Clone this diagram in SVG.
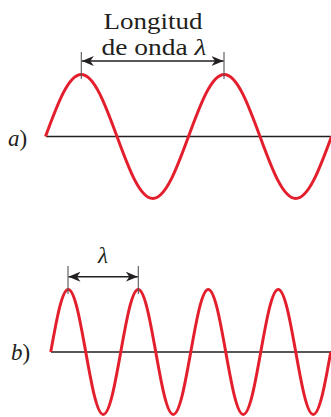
<svg xmlns="http://www.w3.org/2000/svg" width="331" height="417" viewBox="0 0 331 417">
<style>
.wave{fill:none;stroke:#e41f2d;stroke-width:3;stroke-linejoin:round}
.axis{stroke:#231f20;stroke-width:1.4}
.tick{stroke:#555;stroke-width:1.1}
.dim{stroke:#231f20;stroke-width:1.4;marker-start:url(#ah);marker-end:url(#ah)}
.t{font-family:"Liberation Serif","Times New Roman",serif;font-size:23px;fill:#231f20}
.i{font-style:italic}
</style>
<defs>
<marker id="ah" viewBox="0 0 12 10" refX="12" refY="5" markerWidth="12" markerHeight="10" markerUnits="userSpaceOnUse" orient="auto-start-reverse">
<path d="M0,0 L12,5 L0,10 L3.5,5 z" fill="#231f20"/>
</marker>
</defs>
<rect width="331" height="417" fill="#fff"/>
<g id="wave-a">
<line class="axis" x1="46" y1="136.5" x2="331" y2="136.5"/>
<path class="wave" d="M45.5,136.5
c 11.66,-31.76 22.81,-62 35.75,-62
c 12.94,0 24.09,30.24 35.75,62
c 11.66,31.76 22.81,62 35.75,62
c 12.94,0 24.09,-30.24 35.75,-62
c 11.66,-31.76 22.81,-62 35.75,-62
c 12.94,0 24.09,30.24 35.75,62
c 11.66,31.76 22.81,62 35.75,62
c 12.94,0 24.09,-30.24 35.75,-62"/>
<text class="t" x="8" y="146"><tspan class="i">a</tspan>)</text>
</g>
<g id="dim-a">
<line class="tick" x1="81.3" y1="52" x2="81.3" y2="79"/>
<line class="tick" x1="224" y1="52" x2="224" y2="79"/>
<text class="t" x="153" y="29" text-anchor="middle" textLength="99" lengthAdjust="spacingAndGlyphs">Longitud</text>
<text class="t" x="154" y="55" text-anchor="middle" textLength="105" lengthAdjust="spacingAndGlyphs">de onda <tspan class="i">λ</tspan></text>
</g>
<g id="wave-b">
<line class="axis" x1="51" y1="352" x2="331" y2="352"/>
<path class="wave" d="M50.75,352
c 5.71,-32.02 11.17,-62.5 17.5,-62.5
c 6.33,0 11.79,30.48 17.5,62.5
c 5.71,32.02 11.17,62.5 17.5,62.5
c 6.33,0 11.79,-30.48 17.5,-62.5
c 5.71,-32.02 11.17,-62.5 17.5,-62.5
c 6.33,0 11.79,30.48 17.5,62.5
c 5.71,32.02 11.17,62.5 17.5,62.5
c 6.33,0 11.79,-30.48 17.5,-62.5
c 5.71,-32.02 11.17,-62.5 17.5,-62.5
c 6.33,0 11.79,30.48 17.5,62.5
c 5.71,32.02 11.17,62.5 17.5,62.5
c 6.33,0 11.79,-30.48 17.5,-62.5
c 5.71,-32.02 11.17,-62.5 17.5,-62.5
c 6.33,0 11.79,30.48 17.5,62.5
c 5.71,32.02 11.17,62.5 17.5,62.5
c 6.33,0 11.79,-30.48 17.5,-62.5"/>
<text class="t" x="11" y="360"><tspan class="i">b</tspan>)</text>
</g>
<g id="dim-b">
<line class="tick" x1="68" y1="266" x2="68" y2="294"/>
<line class="tick" x1="138.3" y1="266" x2="138.3" y2="294"/>
<text class="t i" x="103" y="263" text-anchor="middle">λ</text>
</g>
<g id="connectors">
<line class="dim" x1="81.8" y1="61" x2="223.5" y2="61"/>
<line class="dim" x1="68.5" y1="276.7" x2="137.8" y2="276.7"/>
</g>
</svg>
